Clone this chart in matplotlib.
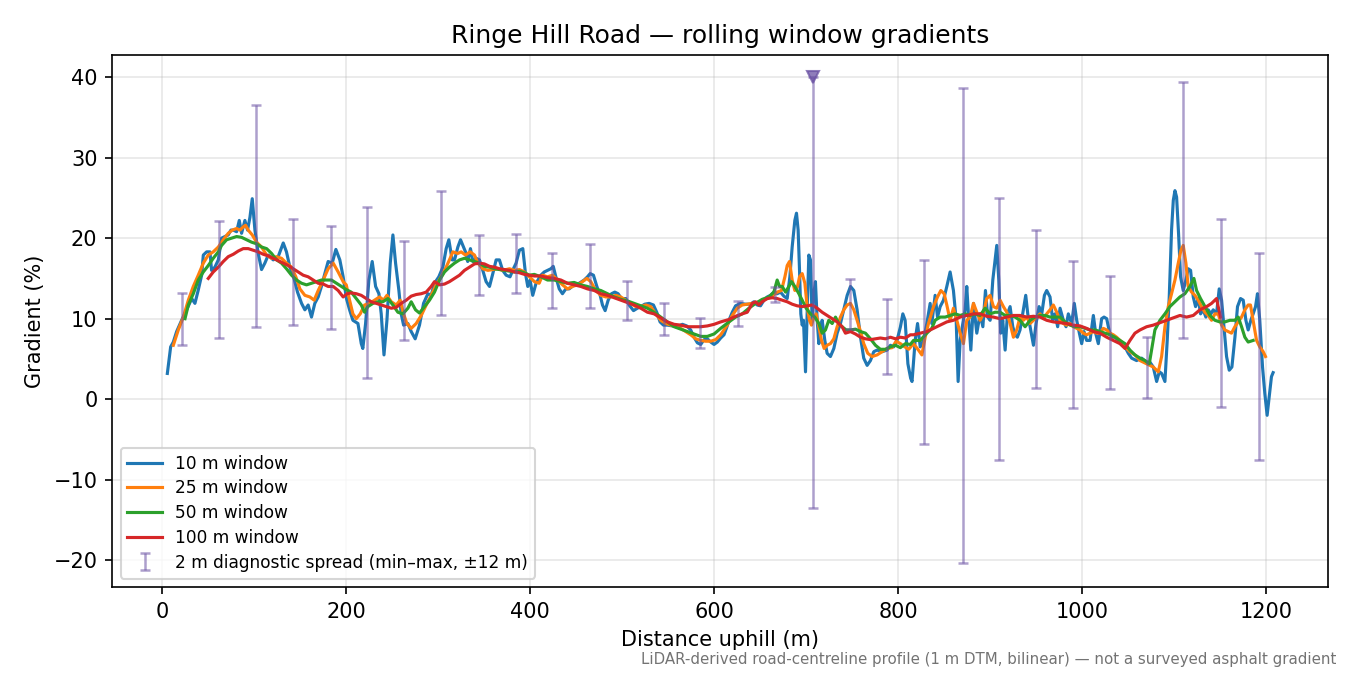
import matplotlib
matplotlib.use("Agg")
import matplotlib.pyplot as plt
import numpy as np

# rolling-window gradient profiles (distance m, gradient %)
win10 = [
    (5.5, 3.2), (9.1, 6.5), (12, 7.1), (15.6, 8.4), (21, 9.8), (26.5, 11.1), (32, 12.5), (35.5, 11.9),
    (39, 13.5), (42.8, 15.4), (44.6, 17.9), (48.2, 18.3), (51.8, 18.3), (53.6, 16.0), (57.2, 16.4),
    (60.9, 17.3), (64.5, 20.0), (68.1, 20.2), (71.7, 20.4), (74.6, 21.0), (77.2, 21.0), (80.8, 20.8),
    (83.7, 22.2), (86.2, 20.6), (89.8, 22.2), (92.7, 21.0), (95.3, 22.6), (97.8, 24.9), (100.7, 21.0),
    (104.3, 18.1), (107.9, 16.1), (111.5, 16.9), (115.2, 17.9), (120.6, 17.3), (126, 17.7), (131.5, 19.4),
    (135, 18.3), (138.7, 16.4), (142.3, 15.4), (147, 13.3), (151.4, 11.9), (155, 11.1), (158.6, 11.7),
    (162.2, 10.2), (165.8, 11.9), (169.5, 12.7), (173, 14.0), (176.7, 15.6), (180.3, 17.1), (184.7, 16.9),
    (188.7, 18.6), (193, 17.3), (196.6, 15.2), (200.2, 12.5), (203.6, 11.1), (207.2, 9.8), (212.7, 9.4),
    (216.3, 6.9), (218, 6.3), (221, 9.4), (224.6, 14.8), (228.2, 17.1), (231.9, 14.0), (235.5, 13.1),
    (238, 10.6), (241, 5.5), (244.2, 9.8), (247.8, 16.9), (250.7, 20.4), (253.6, 16.9), (257.2, 13.5),
    (259.7, 10.6), (262.3, 9.2), (267, 9.4), (270.6, 8.4), (274.9, 7.5), (279.6, 9.2), (284, 11.9),
    (288.7, 13.1), (292.3, 12.9), (295.9, 14.4), (300.6, 15.2), (305, 16.4), (308.6, 18.7), (311.5, 19.8),
    (315.1, 17.3), (317.7, 17.3), (321.3, 18.9), (324.2, 19.8), (326.7, 19.1), (329.6, 18.3), (332, 17.1),
    (335, 18.7), (337.6, 17.1), (341.2, 17.5), (344.8, 17.3), (348.4, 16.0), (352, 14.6), (355.7, 14.0),
    (359.3, 15.6), (362.9, 17.3), (366.5, 17.3), (370, 16.0), (373.8, 15.4), (378, 15.2), (381.7, 16.2),
    (384.6, 16.9), (388.2, 18.5), (391.9, 18.7), (394.8, 15.6), (397.3, 14.0), (399.8, 14.8), (402.7, 12.9),
    (406.3, 14.4), (411.5, 15.4), (415.2, 15.8), (418.8, 16.0), (422.4, 16.2), (425, 16.5), (427.8, 15.2),
    (431.5, 13.7), (435, 13.1), (438.7, 13.7), (442.3, 13.7), (447.7, 14.2), (453.2, 14.4), (458.6, 14.8),
    (462.2, 15.2), (465.1, 15.6), (468.7, 15.4), (472.4, 14.0), (476, 12.9), (478.5, 11.7), (481.4, 11.0),
    (484.7, 12.3), (488.3, 13.1), (491.9, 13.3), (495.5, 13.1), (499.1, 12.5), (503.9, 12.5), (507.5, 11.7),
    (512.2, 11.0), (516.5, 11.3), (520.1, 11.5), (524.5, 11.8), (529.2, 11.9), (533.9, 11.7), (537.5, 10.8),
    (541.1, 9.6), (544.8, 9.2), (549.1, 9.2), (554.5, 9.1), (560, 9.0), (565.4, 9.3), (570.1, 9.1),
    (574.4, 8.6), (578, 7.7), (581.7, 7.0), (585.3, 6.8), (588.9, 7.4), (592.5, 7.5), (596.2, 7.1),
    (599.8, 6.8), (603.4, 7.1), (607, 7.6), (610.6, 8.0), (613.5, 8.9), (616, 9.8), (619.6, 10.8),
    (623.2, 11.6), (628.6, 11.9), (634, 11.8), (639.5, 11.8), (643.1, 12.1), (646.7, 11.7), (650.3, 11.6),
    (654, 12.3), (657.6, 12.7), (661.2, 12.9), (664.8, 13.3), (668.4, 13.1), (672, 13.3), (675.7, 12.8),
    (679.3, 12.5), (682.2, 15.2), (684.7, 18.9), (687.6, 22.2), (689.4, 23.1), (691.2, 21.0), (692.7, 16.0),
    (694.1, 10.6), (695.6, 9.2), (697, 9.8), (699.2, 3.4), (701, 10.6), (702.8, 17.9), (704.6, 17.3),
    (706.4, 9.8), (708.2, 13.1), (710, 14.6), (711.9, 9.8), (713.7, 6.9), (715.5, 8.6), (717.3, 9.8),
    (720.2, 7.3), (722.7, 5.7), (726.3, 5.3), (730, 6.3), (733.6, 8.2), (737.2, 9.4), (740.8, 11.1),
    (744.5, 12.9), (748.1, 14.0), (751.7, 13.5), (755.3, 11.1), (759, 7.7), (762.5, 5.1), (766.2, 4.2),
    (769.8, 4.8), (773.4, 5.9), (777, 6.1), (782.5, 5.9), (787.9, 6.1), (791.5, 6.7), (795.1, 6.5),
    (798.7, 7.3), (802.4, 9.0), (805, 10.6), (807.5, 9.8), (810.5, 4.4), (813.5, 2.6), (815, 2.2),
    (818.4, 7.3), (821, 9.4), (823.9, 6.5), (827.5, 7.3), (831.1, 9.4), (834.7, 11.9), (836.5, 9.4),
    (840.1, 12.9), (842.7, 10.2), (845.6, 11.5), (849.2, 12.3), (852.8, 14.0), (856.4, 15.8), (860, 13.5),
    (863, 9.8), (865.1, 2.2), (867.3, 7.3), (870.2, 9.4), (872.7, 11.1), (874.5, 14.0), (876.7, 9.8),
    (878.9, 6.1), (881.8, 11.9), (885.4, 8.2), (889, 10.6), (892, 9.0), (894.8, 13.5), (897.3, 10.2),
    (899.9, 9.8), (902.8, 14.8), (905.3, 17.3), (907.1, 19.1), (909.3, 14.8), (911.4, 8.2), (913.6, 9.8),
    (916.2, 6.1), (918.7, 10.6), (921.6, 11.5), (924.5, 9.0), (927, 8.0), (929.5, 7.7), (932.4, 8.6),
    (936, 11.1), (938.6, 12.9), (940.8, 10.6), (943.3, 9.0), (947, 6.7), (949.8, 9.4), (953.1, 11.5),
    (956, 10.6), (958.9, 12.9), (961.4, 13.5), (965, 12.7), (967.9, 9.8), (970.4, 10.6), (973.3, 9.0),
    (975.9, 11.3), (979.5, 9.8), (982.4, 9.0), (984.9, 10.6), (988.5, 9.4), (991.4, 11.9), (994, 9.8),
    (996.9, 8.2), (999.4, 6.9), (1001.9, 8.4), (1004.8, 7.3), (1008.5, 7.3), (1012.1, 10.4), (1014.6, 8.2),
    (1017.5, 6.9), (1021.1, 10.0), (1023.7, 10.2), (1026.6, 10.0), (1029.5, 8.4), (1032, 7.7),
    (1035.6, 7.7), (1039.2, 7.3), (1042.9, 6.9), (1046.5, 6.5), (1050.1, 5.7), (1053.7, 5.1),
    (1059.1, 4.8), (1064.6, 5.1), (1070, 4.6), (1073.6, 4.6), (1077.2, 4.0), (1080.9, 2.2), (1083.8, 3.4),
    (1086.3, 3.2), (1089.9, 2.2), (1092.4, 7.3), (1094.6, 12.7), (1097.1, 21.0), (1099, 24.7),
    (1100.8, 25.9), (1102.6, 25.1), (1104.7, 20.6), (1106.9, 15.2), (1109.8, 13.5), (1112.7, 14.8),
    (1115.2, 16.2), (1117.8, 16.0), (1120.7, 12.7), (1123.2, 11.5), (1126.1, 12.5), (1128.6, 10.6),
    (1131.5, 11.1), (1134.4, 10.2), (1137, 11.1), (1139.9, 10.6), (1142.4, 11.1), (1146, 10.6),
    (1148.9, 13.7), (1151.5, 12.3), (1154.3, 8.6), (1156.9, 5.3), (1159.8, 3.6), (1162.7, 4.0),
    (1166, 7.7), (1168.8, 11.5), (1172.1, 12.5), (1175, 12.3), (1177.9, 9.8), (1180.4, 8.6),
    (1183.3, 9.8), (1185.8, 10.6), (1188.4, 11.5), (1190.5, 13.1), (1193, 9.8), (1196, 4.0),
    (1198.5, 0.7), (1201, -2.0), (1203.2, 0.3), (1205.7, 2.8), (1207.5, 3.3),
]

win25 = [
    (12, 6.7), (17.4, 8.6), (22.9, 10.2), (28.3, 12.3), (33.7, 14.0), (39.1, 15.4), (44.6, 16.9),
    (50, 17.9), (55.4, 18.3), (60.9, 18.9), (66.3, 19.8), (71.7, 20.6), (76.1, 21.0), (80.8, 21.2),
    (84.4, 21.0), (88, 21.4), (90.5, 21.6), (93.4, 21.0), (97.8, 20.4), (102.5, 19.5), (107.9, 18.9),
    (113.4, 17.9), (118.8, 17.5), (124.2, 17.7), (129.6, 17.5), (135, 16.9), (140.5, 16.4), (145.2, 15.2),
    (149.6, 13.7), (155, 12.9), (160.4, 12.7), (165.1, 12.3), (169.5, 13.5), (174.9, 14.8), (180.3, 16.2),
    (185.8, 16.9), (191.2, 15.8), (196.6, 14.6), (200, 14.2), (203.6, 12.3), (207.2, 10.6), (210.9, 10.0),
    (215.2, 10.6), (219.9, 11.7), (225.3, 11.9), (230.8, 12.3), (236.2, 12.7), (240.5, 12.3),
    (244.2, 12.9), (248.9, 12.1), (254.3, 11.7), (258.6, 12.3), (262.3, 10.6), (265.9, 9.4), (270.6, 8.8),
    (276, 9.4), (281.5, 10.4), (286.9, 11.7), (292.3, 12.9), (297.7, 14.2), (303.2, 15.2), (308.6, 16.4),
    (312.9, 17.5), (315.8, 18.3), (321.3, 18.1), (324.9, 18.3), (329.6, 17.9), (334.7, 18.3),
    (339.4, 17.9), (343, 16.9), (348.4, 16.2), (353.9, 16.0), (359.3, 16.1), (364.7, 16.2), (370.1, 16.0),
    (377.4, 16.2), (382.8, 16.0), (388.2, 16.1), (393.7, 15.8), (399.1, 15.2), (404.5, 14.6),
    (409.7, 14.4), (413.3, 15.4), (418.8, 15.2), (424.2, 15.4), (429.6, 14.8), (435.1, 14.2),
    (440.5, 13.7), (445.9, 14.0), (451.4, 14.2), (456.8, 14.6), (461.5, 15.0), (465.8, 14.6),
    (471.3, 13.5), (476.7, 12.9), (482.1, 12.7), (487.6, 12.7), (493, 12.9), (498.4, 12.7), (503.9, 12.3),
    (509.3, 11.9), (514.7, 11.5), (520.1, 11.5), (525.6, 11.7), (531, 11.5), (536.4, 10.6), (541.9, 9.8),
    (547.3, 9.4), (552.7, 9.2), (558.2, 9.0), (563.6, 8.8), (569, 8.4), (574.4, 8.0), (579.9, 7.5),
    (585.3, 7.3), (590.7, 7.2), (596.2, 7.2), (601.6, 7.4), (607, 8.0), (614.1, 9.2), (619.6, 10.4),
    (625, 11.3), (630.4, 11.7), (635.9, 11.8), (641.3, 11.9), (646.7, 12.0), (652.1, 12.3), (657.6, 12.5),
    (663, 12.8), (668.4, 13.3), (673.1, 13.5), (676.8, 15.2), (679.3, 16.6), (681.8, 17.1), (684.7, 14.8),
    (687.6, 13.5), (690.5, 14.0), (692.7, 15.2), (695.6, 15.6), (698.5, 14.4), (701, 11.5), (703.5, 9.8),
    (705.7, 9.2), (708.2, 10.2), (710.8, 10.6), (713.7, 9.0), (716.6, 7.3), (719.5, 6.3), (722.7, 6.7),
    (726.3, 6.9), (730, 7.5), (733.6, 9.0), (737.2, 10.2), (740.8, 11.1), (744.5, 11.7), (748.1, 11.9),
    (751.7, 11.1), (755.3, 9.8), (759, 8.4), (762.5, 6.9), (766.9, 5.7), (771.6, 5.3), (777, 5.5),
    (782.5, 5.9), (787.9, 6.3), (793.3, 6.4), (797.7, 7.2), (802.4, 6.9), (807.1, 6.5), (811.4, 6.2),
    (816.6, 6.9), (822, 6.1), (825.7, 5.5), (829.3, 7.7), (832.9, 9.4), (838.3, 11.5), (842.7, 12.7),
    (846.3, 13.5), (849.9, 13.1), (852.8, 11.7), (856.4, 9.8), (860, 11.3), (863.7, 9.8), (867.3, 8.2),
    (870.9, 6.9), (874.5, 9.8), (878.1, 10.2), (881.8, 11.9), (885.4, 10.8), (889, 9.8), (892.6, 10.6),
    (896.2, 12.5), (899.9, 12.9), (903.5, 11.5), (907.1, 11.3), (910.7, 12.3), (914.3, 11.5), (918, 10.8),
    (921.6, 9.4), (925.2, 7.7), (928.8, 8.6), (932.4, 10.2), (936, 9.8), (939.7, 10.2), (943.3, 9.4),
    (946.9, 9.8), (950.5, 10.2), (954.2, 10.6), (957.8, 10.0), (961.4, 10.6), (965, 11.1), (968.6, 11.7),
    (972.3, 10.8), (975.9, 9.8), (979.5, 9.4), (983.1, 9.2), (986.7, 9.4), (990.4, 9.0), (994, 8.8),
    (997.6, 8.6), (1001.2, 8.2), (1004.8, 8.0), (1008.5, 8.2), (1012.1, 8.4), (1015.7, 8.2),
    (1019.3, 8.2), (1022.9, 8.8), (1026.6, 8.6), (1030.2, 8.2), (1033.8, 8.0), (1037.4, 7.7),
    (1041, 7.3), (1044.7, 6.9), (1048.3, 6.3), (1051.9, 5.9), (1057.3, 5.5), (1062.8, 4.8), (1070, 4.4),
    (1077.2, 4.0), (1082.7, 3.4), (1086.3, 5.3), (1089.9, 9.0), (1093.5, 11.5), (1097.1, 13.1),
    (1100.8, 14.8), (1104.4, 16.9), (1107.3, 18.5), (1109.8, 19.1), (1112.7, 16.9), (1115.2, 14.0),
    (1118.9, 13.3), (1122.5, 12.9), (1126.1, 12.3), (1129.7, 11.5), (1133.3, 10.8), (1137, 10.4),
    (1140.6, 9.8), (1144.2, 10.6), (1147.8, 10.6), (1151.5, 9.2), (1155.1, 8.6), (1158.7, 8.4),
    (1162.3, 8.2), (1165.9, 9.0), (1169.6, 9.6), (1173.2, 10.2), (1176.8, 11.1), (1180.4, 11.7),
    (1182.9, 11.7), (1185.8, 9.8), (1189.5, 7.3), (1193, 6.5), (1196.7, 5.9), (1199.2, 5.3),
]

win50 = [
    (24.7, 10.0), (28.3, 11.7), (33.7, 13.1), (39.1, 14.8), (44.6, 15.8), (50, 16.6), (55.4, 17.5),
    (60.9, 18.3), (64.5, 19.1), (69.9, 19.8), (75.3, 20.0), (80.8, 20.2), (86.2, 20.1), (91.6, 19.8),
    (97.1, 19.5), (102.5, 19.3), (107.9, 18.9), (113.4, 18.7), (118.8, 18.1), (124.2, 17.3), (129.6, 16.9),
    (135, 16.2), (140.5, 15.4), (145.9, 14.8), (151.4, 14.4), (156.8, 14.2), (162.2, 14.4), (167.6, 14.6),
    (173.1, 14.8), (178.5, 14.8), (183.9, 14.8), (189.4, 14.4), (194.8, 14.0), (200.1, 13.6),
    (205.4, 13.3), (210.9, 12.5), (216.3, 11.7), (219.9, 10.8), (223.5, 11.5), (229, 11.9), (234.4, 12.1),
    (239.8, 12.1), (245.3, 12.5), (250.7, 11.7), (256.1, 10.8), (261.5, 10.6), (267, 11.3), (270.6, 12.1),
    (275.3, 11.1), (279.6, 10.7), (285.1, 11.5), (290.5, 12.3), (295.9, 13.3), (301.4, 14.8),
    (306.8, 15.8), (312.2, 16.4), (317.7, 16.9), (323.1, 17.3), (328.5, 17.5), (333.9, 17.3),
    (339.4, 17.1), (344.8, 16.9), (350.2, 16.5), (355.7, 16.4), (361.1, 16.2), (366.5, 16.1),
    (371.9, 16.0), (377.4, 15.9), (382.8, 15.8), (388.2, 15.9), (393.7, 15.7), (399.1, 15.4),
    (404.4, 15.5), (411.5, 15.2), (418.8, 14.8), (426, 14.8), (433.3, 14.6), (440.5, 14.4), (447.7, 14.5),
    (455, 14.2), (462.2, 14.0), (469.5, 13.7), (476.7, 13.5), (484, 13.1), (491.2, 12.7), (498.4, 12.4),
    (505.7, 12.2), (512.9, 11.9), (520.1, 11.6), (527.4, 11.3), (534.6, 10.8), (541.9, 10.2),
    (549.1, 9.6), (556.4, 9.0), (563.6, 8.7), (570.8, 8.4), (578.1, 8.1), (585.3, 7.8), (592.5, 7.8),
    (599.8, 8.1), (607, 8.8), (616, 9.6), (623.2, 10.2), (630.4, 10.6), (637.7, 11.3), (644.9, 11.9),
    (652.1, 12.4), (659.4, 12.7), (664.8, 13.3), (668.4, 14.8), (671, 14.0), (673.9, 14.0), (677.5, 13.3),
    (681.1, 14.0), (684, 14.6), (687.6, 14.0), (692, 13.1), (695.6, 12.3), (699.9, 11.3), (704.6, 10.6),
    (709.3, 10.2), (713.7, 9.4), (717.3, 8.2), (720.9, 8.6), (724.5, 9.8), (728.2, 9.4), (731.8, 10.2),
    (735.4, 9.4), (739, 9.0), (743.4, 8.6), (748.1, 8.6), (753.5, 8.7), (759, 8.4), (764.4, 8.2),
    (769.8, 7.5), (775.2, 6.7), (780.6, 6.2), (786.1, 6.2), (791.5, 6.5), (797, 6.7), (802.3, 6.4),
    (807.8, 6.9), (813.2, 6.8), (816.6, 7.3), (823.8, 7.3), (831.1, 8.2), (836.5, 8.8), (840.1, 9.8),
    (845.6, 10.2), (851, 10.2), (856.4, 10.4), (861.9, 10.6), (867.3, 10.4), (872.7, 10.6), (878.1, 10.4),
    (883.6, 10.6), (889, 10.4), (894.4, 11.3), (899.9, 10.6), (905.3, 10.8), (910.7, 10.8), (916.2, 10.4),
    (921.6, 10.4), (927, 10.2), (932.4, 9.8), (937.9, 9.0), (943.3, 9.8), (948.7, 10.2), (954.2, 10.4),
    (959.6, 10.4), (965, 10.2), (970.4, 10.2), (975.9, 10.2), (981.3, 9.6), (986.7, 9.2), (992.2, 9.0),
    (997.6, 9.0), (1003, 8.8), (1008.5, 8.6), (1013.9, 8.6), (1019.3, 8.4), (1024.8, 8.2), (1030.2, 8.0),
    (1035.6, 7.7), (1041, 7.3), (1046.5, 6.9), (1051.9, 6.1), (1057.3, 5.5), (1062.8, 5.1), (1068.2, 4.8),
    (1072.9, 4.4), (1075.4, 6.1), (1079, 8.6), (1084.5, 9.8), (1089.9, 10.6), (1095.3, 11.5),
    (1100.8, 12.1), (1106.2, 12.7), (1111.6, 13.1), (1117.1, 14.0), (1121.4, 15.0), (1124.3, 13.5),
    (1128.6, 12.5), (1133.4, 11.5), (1138.8, 10.4), (1144.2, 9.8), (1149.6, 9.6), (1155.1, 9.6),
    (1160.5, 9.8), (1165.9, 9.8), (1169.6, 10.2), (1173.2, 9.0), (1176.8, 7.7), (1180.4, 7.1),
    (1185.8, 7.3),
]

win100 = [
    (50, 15.0), (55.4, 15.8), (60.9, 16.4), (66.3, 17.1), (71.7, 17.7), (77.2, 18.0), (82.6, 18.4),
    (88, 18.7), (93.4, 18.7), (98.9, 18.5), (104.3, 18.3), (109.7, 18.0), (115.2, 17.8), (120.6, 17.5),
    (126, 17.2), (131.5, 16.9), (136.9, 16.6), (142.3, 16.2), (147.7, 15.8), (153.2, 15.4), (158.6, 15.2),
    (164, 14.8), (169.5, 14.4), (174.9, 14.3), (180.3, 14.0), (185.8, 14.0), (191.2, 13.5), (196.6, 12.7),
    (201, 13.1), (205.4, 13.2), (210.9, 13.1), (216.3, 12.9), (221.7, 12.5), (227.2, 12.1), (232.6, 11.9),
    (238, 11.7), (243.4, 11.5), (248.9, 11.3), (254.3, 11.4), (259.7, 11.9), (265.2, 12.3), (270.6, 12.8),
    (276, 13.0), (281.5, 13.1), (286.9, 13.3), (292.3, 14.0), (295.9, 14.6), (301.4, 14.2), (306.8, 14.3),
    (312.2, 14.6), (317.7, 15.0), (323.1, 15.4), (328.5, 16.0), (333.9, 16.4), (339.4, 16.8),
    (344.8, 16.9), (350.2, 16.8), (355.7, 16.5), (361.1, 16.4), (366.5, 16.2), (371.9, 16.1),
    (377.4, 16.0), (382.8, 15.8), (388.2, 15.7), (393.7, 15.5), (399.1, 15.4), (404.4, 15.3),
    (411.5, 15.3), (418.8, 15.1), (426, 15.0), (433.3, 14.8), (440.5, 14.4), (447.7, 14.2), (455, 14.0),
    (462.2, 13.7), (469.5, 13.5), (476.7, 13.1), (484, 12.9), (491.2, 12.6), (498.4, 12.3), (505.7, 12.0),
    (512.9, 11.7), (520.1, 11.3), (527.4, 10.8), (534.6, 10.6), (541.9, 10.1), (549.1, 9.6), (556.4, 9.3),
    (563.6, 9.2), (570.8, 9.0), (578.1, 9.0), (585.3, 9.0), (592.5, 9.1), (599.8, 9.3), (607, 9.6),
    (616, 9.9), (623.2, 10.3), (630.4, 10.6), (635.9, 10.8), (641.3, 11.9), (644.9, 12.1), (648.5, 11.7),
    (652.1, 12.1), (657.6, 12.5), (663, 12.6), (668.4, 12.5), (673.9, 12.3), (679.3, 12.1), (684.7, 11.8),
    (690.1, 11.6), (695.6, 11.5), (701, 11.6), (706.4, 11.7), (711.9, 11.3), (717.3, 10.8), (722.7, 10.4),
    (728.2, 10.0), (733.6, 9.6), (739, 9.0), (742.6, 8.2), (748.1, 8.4), (753.5, 8.1), (759, 7.7),
    (764.4, 7.5), (769.8, 7.4), (775.2, 7.5), (780.6, 7.6), (786.1, 7.5), (791.5, 7.7), (797, 7.5),
    (802.3, 7.7), (807.8, 7.6), (813.2, 8.0), (816.6, 8.0), (823.8, 8.2), (831.1, 8.4), (838.3, 8.8),
    (845.6, 9.2), (852.8, 9.6), (860, 9.8), (867.3, 10.2), (874.5, 10.4), (881.8, 10.6), (889, 10.6),
    (896.2, 10.3), (903.5, 10.2), (910.7, 10.0), (918, 10.2), (925.2, 10.4), (932.4, 10.4), (939.7, 10.2),
    (946.9, 10.3), (954.2, 10.2), (961.4, 9.8), (968.6, 9.6), (975.9, 9.5), (983.1, 9.4), (990.4, 9.2),
    (997.6, 9.1), (1004.8, 8.8), (1012.1, 8.4), (1019.3, 8.2), (1026.6, 7.7), (1033.8, 7.3), (1041, 6.9),
    (1046.5, 6.3), (1051.9, 7.3), (1057.3, 8.2), (1062.8, 8.6), (1070, 9.0), (1077.2, 9.2),
    (1084.5, 9.5), (1091.7, 9.8), (1099, 10.1), (1106.2, 10.4), (1113.4, 10.2), (1120.7, 10.4),
    (1127.9, 11.1), (1135.2, 11.5), (1140.6, 11.9), (1146, 12.5), (1147.8, 11.5), (1150.4, 10.2),
]

# 2 m diagnostic spread: min / max over +-12 m around each station
spread_x = [21, 62, 102, 142, 183, 223, 263, 303, 344, 384, 424, 465, 505, 545, 585,
            626, 666, 707, 748, 788, 828, 870, 910, 950, 990, 1030, 1070, 1110, 1151, 1192]
spread_lo = [6.75, 7.6, 9.0, 9.2, 8.7, 2.65, 7.4, 10.5, 12.95, 13.2, 11.35, 11.35, 9.85, 8.0, 6.4,
             9.1, 12.1, -13.5, 8.7, 3.15, -5.5, -20.3, -7.6, 1.4, -1.1, 1.25, 0.1, 7.6, -0.95, -7.5]
spread_hi = [13.2, 22.1, 36.5, 22.4, 21.5, 23.9, 19.6, 25.9, 20.4, 20.5, 18.2, 19.3, 14.7, 11.9, 10.1,
             12.2, 13.95, 40.0, 14.95, 12.45, 17.3, 38.6, 25.0, 21.0, 17.2, 15.3, 7.75, 39.4, 22.4, 18.2]
spread_clipped = [False] * 17 + [True] + [False] * 12   # max runs off the top of the plot
Y_CLIP = 40

series = [
    (win10, "tab:blue", "10 m window"),
    (win25, "tab:orange", "25 m window"),
    (win50, "tab:green", "50 m window"),
    (win100, "tab:red", "100 m window"),
]

fig, ax = plt.subplots(figsize=(9, 4.5), dpi=150)

for pts, col, lab in series:
    xs, ys = zip(*pts)
    ax.plot(xs, ys, color=col, lw=1.5, label=lab)

sx = np.array(spread_x, dtype=float)
lo = np.array(spread_lo)
hi = np.minimum(np.array(spread_hi), Y_CLIP)
mid = (lo + hi) / 2
ax.errorbar(sx, mid, yerr=[mid - lo, hi - mid], fmt="none", ecolor="#6a51a3",
            elinewidth=1.2, capsize=2.5, capthick=1.2, alpha=0.55,
            label="2 m diagnostic spread (min\u2013max, \u00b112 m)")
clip = np.array(spread_clipped)
ax.plot(sx[clip], np.full(clip.sum(), Y_CLIP), "v", color="#6a51a3", alpha=0.75, ms=6)

ax.set_ylim(-23.35, 42.7)
ax.set_title("Ringe Hill Road \u2014 rolling window gradients")
ax.set_xlabel("Distance uphill (m)")
ax.set_ylabel("Gradient (%)")
ax.grid(alpha=0.3)
ax.legend(loc="lower left", fontsize=8.2, labelspacing=0.4)

fig.text(0.99, 0.012,
         "LiDAR-derived road-centreline profile (1 m DTM, bilinear) \u2014 not a surveyed asphalt gradient",
         ha="right", va="bottom", fontsize=7.2, color="0.45")

fig.subplots_adjust(left=0.083, right=0.984, top=0.918, bottom=0.13)
fig.savefig("out.png", dpi=150)
